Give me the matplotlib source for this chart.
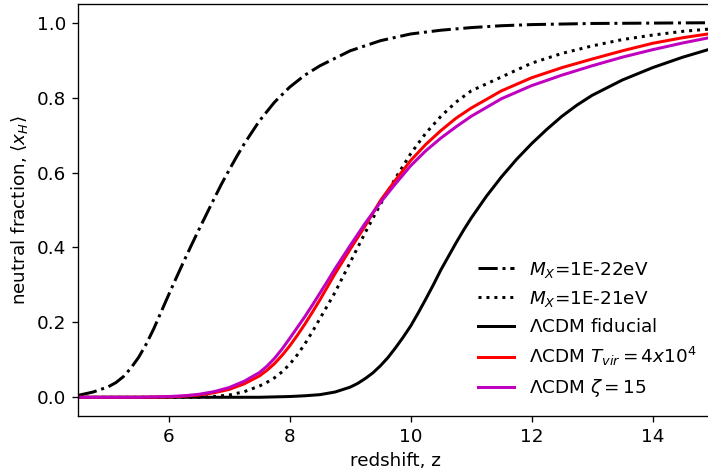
import numpy as np
import matplotlib
matplotlib.use("Agg")
from matplotlib import pyplot as plt

plt.rcParams['font.size'] = 11

# M_X = 1E-22 eV (dash-dot)
z_mx22 = [4.5, 4.75, 5.0, 5.125, 5.25, 5.375, 5.5, 5.625, 5.75, 5.875, 6.0, 6.125, 6.25, 6.375,
          6.5, 6.625, 6.75, 6.875, 7.0, 7.125, 7.25, 7.5, 7.75, 8.0, 8.25, 8.5, 8.75, 9.0,
          9.5, 10.0, 10.5, 11.0, 11.5, 12.0, 13.0, 14.0, 15.0]
x_mx22 = [0.005, 0.014, 0.028, 0.039, 0.055, 0.078, 0.106, 0.141, 0.182, 0.228, 0.274, 0.319, 0.363, 0.406,
          0.448, 0.489, 0.53, 0.57, 0.607, 0.643, 0.677, 0.738, 0.788, 0.828, 0.86, 0.885, 0.905, 0.925,
          0.952, 0.97, 0.98, 0.987, 0.992, 0.995, 0.998, 0.999, 1.0]

# M_X = 1E-21 eV (dotted)
z_mx21 = [4.5, 5.5, 6.5, 6.75, 7.0, 7.25, 7.5, 7.625, 7.75, 7.875, 8.0, 8.125, 8.25, 8.375, 8.5, 8.625,
          8.75, 9.0, 9.25, 9.5, 9.75, 10.0, 10.25, 10.5, 10.75, 11.0, 11.5, 12.0, 12.5, 13.0, 13.5,
          14.0, 14.5, 15.0]
x_mx21 = [0.0, 0.0, 0.0, 0.002, 0.006, 0.015, 0.03, 0.04, 0.052, 0.068, 0.088, 0.113, 0.142, 0.175, 0.21, 0.245,
          0.28, 0.36, 0.44, 0.515, 0.585, 0.65, 0.705, 0.75, 0.788, 0.818, 0.855, 0.892, 0.918, 0.938, 0.955,
          0.967, 0.977, 0.984]

# LCDM fiducial
z_fid = [4.5, 6.0, 7.5, 7.75, 8.0, 8.25, 8.5, 8.75, 9.0, 9.125, 9.25, 9.375, 9.5, 9.625, 9.75, 9.875,
         10.0, 10.125, 10.25, 10.375, 10.5, 10.625, 10.75, 10.875, 11.0, 11.25, 11.5, 11.75, 12.0,
         12.25, 12.5, 12.75, 13.0, 13.5, 14.0, 14.5, 15.0]
x_fid = [0.0, 0.0, 0.0, 0.001, 0.002, 0.004, 0.007, 0.014, 0.027, 0.037, 0.05, 0.065, 0.084, 0.106, 0.132, 0.16,
         0.19, 0.225, 0.262, 0.3, 0.34, 0.376, 0.412, 0.446, 0.478, 0.536, 0.588, 0.635, 0.677,
         0.715, 0.75, 0.78, 0.806, 0.847, 0.88, 0.908, 0.932]

# LCDM T_vir = 4x10^4
z_tvir = [4.5, 5.5, 6.0, 6.25, 6.5, 6.75, 7.0, 7.25, 7.5, 7.625, 7.75, 7.875, 8.0, 8.125, 8.25, 8.375,
          8.5, 8.625, 8.75, 9.0, 9.25, 9.5, 9.75, 10.0, 10.25, 10.5, 10.75, 11.0, 11.5, 12.0, 12.5,
          13.0, 13.5, 14.0, 14.5, 15.0]
x_tvir = [0.0, 0.0, 0.001, 0.003, 0.006, 0.012, 0.021, 0.036, 0.057, 0.072, 0.09, 0.112, 0.137, 0.165, 0.195, 0.227,
          0.26, 0.295, 0.33, 0.395, 0.458, 0.525, 0.58, 0.632, 0.675, 0.712, 0.745, 0.772, 0.818, 0.853, 0.88,
          0.903, 0.925, 0.945, 0.96, 0.972]

# LCDM zeta = 15
z_zeta = [4.5, 5.5, 6.0, 6.25, 6.5, 6.75, 7.0, 7.25, 7.5, 7.625, 7.75, 7.875, 8.0, 8.125, 8.25, 8.375,
          8.5, 8.625, 8.75, 9.0, 9.25, 9.5, 9.75, 10.0, 10.25, 10.5, 10.75, 11.0, 11.5, 12.0, 12.5,
          13.0, 13.5, 14.0, 14.5, 15.0]
x_zeta = [0.0, 0.0, 0.002, 0.004, 0.008, 0.015, 0.026, 0.043, 0.066, 0.083, 0.104, 0.129, 0.157, 0.186, 0.215, 0.246,
          0.278, 0.31, 0.343, 0.405, 0.465, 0.52, 0.57, 0.618, 0.658, 0.692, 0.722, 0.75, 0.797, 0.832, 0.86,
          0.885, 0.908, 0.928, 0.946, 0.962]

fig = plt.figure(figsize=(708 / 120, 474 / 120), dpi=120)
ax = fig.add_axes([78 / 708, 58 / 474, 635 / 708, 412 / 474])

lw = 1.8
ax.plot(z_mx22, x_mx22, 'k-.', lw=lw, label=r'$M_X$=1E-22eV')
ax.plot(z_mx21, x_mx21, 'k:', lw=lw, label=r'$M_X$=1E-21eV')
ax.plot(z_fid, x_fid, 'k-', lw=lw, label=r'$\Lambda$CDM fiducial')
ax.plot(z_tvir, x_tvir, 'r-', lw=lw, label=r'$\Lambda$CDM $T_{vir}=4x10^4$')
ax.plot(z_zeta, x_zeta, 'm-', lw=lw, label=r'$\Lambda$CDM $\zeta=15$')

ax.set_xlim(4.5, 15)
ax.set_ylim(-0.05, 1.05)
ax.set_xticks([6, 8, 10, 12, 14])
ax.set_xlabel('redshift, z')
ax.set_ylabel(r'neutral fraction, $\langle x_H \rangle$')
ax.legend(loc='lower right', frameon=False)

fig.savefig('out.png', dpi=120)
